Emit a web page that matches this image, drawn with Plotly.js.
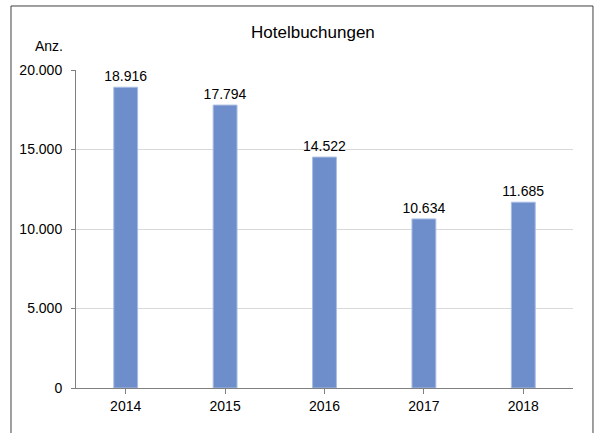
<!DOCTYPE html>
<html><head><meta charset="utf-8">
<script src="https://cdn.plot.ly/plotly-3.0.1.min.js"></script>
<style>body{margin:0;background:#fff}#c{width:596px;height:433px}</style>
</head><body><div id="c"></div>
<script>
const years = ['2014','2015','2016','2017','2018'];
const bookings = [18916, 17794, 14522, 10634, 11685];
const yTicks = [0, 5000, 10000, 15000, 20000];

const font = {family: 'Liberation Sans, Arial, sans-serif', size: 14, color: '#000'};
Plotly.newPlot('c', [{
  type: 'bar', x: years, y: bookings,
  marker: {color: '#6e8ecb', line: {color: '#a9bde3', width: 1}},
  text: bookings, texttemplate: '%{y:,d}', textposition: 'outside', constraintext: 'none',
  textfont: font, cliponaxis: false, hoverinfo: 'none'
}], {
  width: 596, height: 433, separators: ',.',
  margin: {l: 76, r: 23, t: 70, b: 45},
  paper_bgcolor: '#fff', plot_bgcolor: '#fff',
  font: font, showlegend: false, bargap: 0.76,
  title: {text: 'Hotelbuchungen', font: {family: 'Liberation Sans, Arial, sans-serif', size: 17, color: '#000'}, x: 0.525, xanchor: 'center', y: 0.925, yanchor: 'middle'},
  xaxis: {showline: true, linecolor: '#808080', linewidth: 1, ticks: 'outside', ticklen: 5, tickcolor: '#808080',
          tickson: 'boundaries', showgrid: false, tickfont: font},
  yaxis: {range: [0, 20000], tickvals: yTicks, tickformat: ',d', showline: true, linecolor: '#808080', linewidth: 1,
          ticks: 'outside', ticklen: 4, tickcolor: '#808080', gridcolor: '#d9d9d9', zeroline: false, tickfont: font,
          ticklabelstandoff: 6},
  annotations: [{text: 'Anz.', xref: 'paper', yref: 'paper', x: -0.055, y: 1.075, xanchor: 'center', yanchor: 'middle', showarrow: false, font: font}],
  shapes: [{type: 'rect', xref: 'paper', yref: 'paper', x0: -0.1308, x1: 1.0402, y0: -0.17, y1: 1.2013, line: {color: '#404040', width: 1}}]
}, {displayModeBar: false, staticPlot: true});
</script></body></html>
